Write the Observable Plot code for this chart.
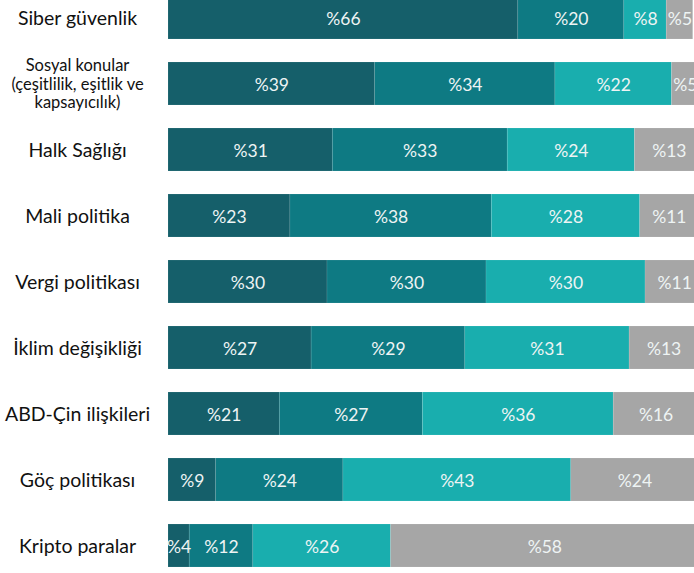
<!DOCTYPE html>
<html>
<head>
<meta charset="utf-8">
<script src="https://cdn.jsdelivr.net/npm/d3@7"></script>
<script src="https://cdn.jsdelivr.net/npm/@observablehq/plot@0.6"></script>
<style>
  html, body { margin: 0; padding: 0; background: #fff; overflow: hidden; }
  #chart { width: 694px; height: 573px; overflow: hidden; }
  #chart svg { max-width: none !important; display: block; }
</style>
</head>
<body>
<div id="chart"></div>
<script>
const topics = [
  "Siber güvenlik",
  "Sosyal konular\n(çeşitlilik, eşitlik ve\nkapsayıcılık)",
  "Halk Sağlığı",
  "Mali politika",
  "Vergi politikası",
  "İklim değişikliği",
  "ABD-Çin ilişkileri",
  "Göç politikası",
  "Kripto paralar"
];
const series1 = [66, 39, 31, 23, 30, 27, 21, 9, 4];
const series2 = [20, 34, 33, 38, 30, 29, 27, 24, 12];
const series3 = [8, 22, 24, 28, 30, 31, 36, 43, 26];
const series4 = [5, 5, 13, 11, 11, 13, 16, 24, 58];
const seriesNames = ["s1", "s2", "s3", "s4"];
const seriesColors = ["#155f6a", "#0e7a83", "#19aeae", "#a6a6a6"];

const allSeries = [series1, series2, series3, series4];
const data = [];
topics.forEach((t, i) => {
  allSeries.forEach((s, k) => {
    data.push({topic: t, group: seriesNames[k], value: s[i]});
  });
});

const chart = Plot.plot({
  width: 698,
  height: 573,
  marginLeft: 168,
  marginRight: 0,
  marginTop: 0,
  marginBottom: 0,
  style: {fontFamily: "Lato, 'Open Sans', sans-serif", background: "#fff", overflow: "hidden"},
  x: {domain: [0, 100], range: [168, 698], axis: null},
  y: {domain: topics, range: [-27.6, 590], padding: 0.349, axis: null},
  color: {domain: seriesNames, range: seriesColors},
  marks: [
    Plot.barX(data, Plot.stackX({
      x: "value", y: "topic", z: "group", fill: "group",
      stroke: "#ffffff", strokeOpacity: 0.15, strokeWidth: 0.7
    })),
    Plot.text(data, Plot.stackX({
      x: "value", y: "topic", z: "group",
      text: d => "%" + d.value,
      fill: "#eef4f4", fontSize: 17.5, dy: 1
    })),
    Plot.text(topics, {
      y: d => d, text: d => d, frameAnchor: "left",
      textAnchor: "middle", dx: -91, dy: 0,
      fontSize: d => d.includes("\n") ? 16.5 : 19.5,
      lineHeight: 1.12, fill: "#111"
    })
  ]
});
document.getElementById("chart").appendChild(chart);
</script>
</body>
</html>
